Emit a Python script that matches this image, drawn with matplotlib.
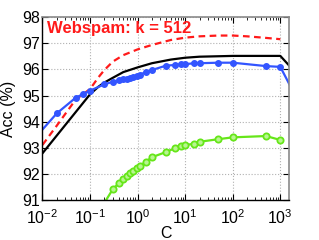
import matplotlib
matplotlib.use('Agg')
import matplotlib.pyplot as plt

plt.rcParams['font.family'] = ['Liberation Sans', 'DejaVu Sans']
plt.rcParams['mathtext.fontset'] = 'custom'
plt.rcParams['mathtext.rm'] = 'Liberation Sans'
plt.rcParams['mathtext.it'] = 'Liberation Sans:italic'
plt.rcParams['mathtext.bf'] = 'Liberation Sans:bold'

# red dashed curve
c_red = [0.01, 0.02, 0.05, 0.1, 0.15, 0.2, 0.3, 0.5, 1, 2, 5, 10, 20, 50, 100, 200,
         500, 1000]
acc_red = [93.11, 93.85, 94.85, 95.25, 95.7, 95.98, 96.3, 96.55, 96.77, 96.94, 97.13,
           97.22, 97.27, 97.3, 97.3, 97.27, 97.21, 97.16]

# black solid curve
c_black = [0.01, 0.1, 0.15, 0.2, 0.3, 0.5, 1, 2, 5, 10, 20, 100, 1000, 10000]
acc_black = [92.79, 95.05, 95.34, 95.5, 95.68, 95.9, 96.08, 96.24, 96.38, 96.45,
             96.49, 96.52, 96.52, 94.53]

# blue curve with dots
c_blue = [0.005, 0.02, 0.05, 0.07, 0.1, 0.2, 0.3, 0.4, 0.5, 0.6, 0.7, 0.8, 0.95,
          1.1, 1.5, 2, 4, 6, 8, 10, 15, 20, 50, 100, 500, 1000, 10000]
acc_blue = [93.08, 94.32, 94.92, 95.05, 95.19, 95.43, 95.53, 95.58, 95.62, 95.65,
            95.68, 95.7, 95.74, 95.8, 95.9, 95.98, 96.15, 96.17, 96.2, 96.2, 96.24,
            96.24, 96.26, 96.26, 96.13, 96.1, 92.6]

# green curve with circles
c_green = [0.1, 0.3, 0.4, 0.5, 0.6, 0.7, 0.8, 0.95, 1.1, 1.5, 2, 4, 6, 8, 10, 15,
           20, 50, 100, 500, 1000]
acc_green = [90.0, 91.41, 91.64, 91.79, 91.92, 92.02, 92.12, 92.21, 92.3, 92.47,
             92.64, 92.84, 92.98, 93.07, 93.11, 93.15, 93.23, 93.33, 93.4, 93.45,
             93.3]

yticks = [91, 92, 93, 94, 95, 96, 97, 98]

fig = plt.figure(figsize=(3.19, 2.40), dpi=100)
ax = fig.add_axes([0.1332, 0.1667, 0.7718, 0.7613])

ax.plot(c_red, acc_red, color='#ff1a1a', linestyle='--', dashes=(3, 2), linewidth=1.6)
ax.plot(c_black, acc_black, color='black', linewidth=1.6)
ax.plot(c_blue, acc_blue, color='#3355ff', linewidth=1.6, marker='o',
        markersize=4, markerfacecolor='#3355ff', markeredgecolor='#3355ff')
ax.plot(c_green, acc_green, color='#66e619', linewidth=1.6, marker='o',
        markersize=4.5, markerfacecolor='#b8f590', markeredgecolor='#66e619',
        markeredgewidth=1.3)

ax.set_xscale('log')
ax.set_xlim(0.01, 1500)
ax.set_ylim(91, 98)
ax.set_yticks(yticks)
ax.set_xticks([0.01, 0.1, 1, 10, 100, 1000])

ax.grid(True, which='major', linestyle=':', color='#b0b0b0', linewidth=0.8)
ax.tick_params(which='both', direction='in', top=True, right=True, labelsize=11.5)
ax.tick_params(which='major', length=4)
ax.tick_params(which='minor', length=2)
ax.tick_params(axis='x', pad=6)
ax.tick_params(axis='y', pad=2)

for side in ['top', 'right']:
    ax.spines[side].set_color('#8a8a8a')
    ax.spines[side].set_linewidth(1.2)
for side in ['left', 'bottom']:
    ax.spines[side].set_linewidth(1.0)

ax.set_xlabel('C', fontsize=11.5, labelpad=-1)
ax.set_ylabel('Acc (%)', fontsize=11.5, labelpad=4)

ax.text(0.017, 0.915, 'Webspam: k = 512', transform=ax.transAxes, color='#ff1a1a',
        fontsize=12, fontweight='bold', va='baseline', ha='left')

fig.savefig('out.png', dpi=100)
